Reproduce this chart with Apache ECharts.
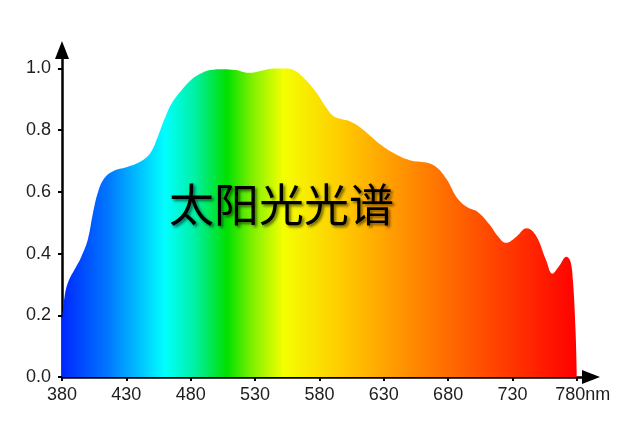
<!DOCTYPE html>
<html>
<head>
<meta charset="utf-8">
<script src="https://cdn.jsdelivr.net/npm/echarts@6/dist/echarts.min.js"></script>
<style>html,body{margin:0;padding:0;background:#fff;}#c{width:640px;height:436px;}</style>
</head>
<body>
<div id="c"></div>
<script>
const wavelengths = [380,382,385,390,395,400,404,408,413,420,430,438,445,450,455,460,465,473,480,487,495,505,515,525,535,545,555,562,570,578,585,591,597,604,612,620,628,638,650,663,671,679,687,695,703,712,719,725,733,741,748,756,761,766,772,775,777,779,780];
const intensity = [0.18,0.26,0.31,0.35,0.39,0.445,0.53,0.60,0.645,0.668,0.68,0.692,0.71,0.735,0.785,0.84,0.885,0.93,0.962,0.982,0.995,0.998,0.995,0.986,0.993,1.0,1.0,0.99,0.96,0.92,0.875,0.845,0.836,0.828,0.808,0.78,0.752,0.725,0.703,0.695,0.68,0.64,0.58,0.55,0.535,0.495,0.455,0.435,0.455,0.482,0.46,0.38,0.335,0.358,0.39,0.375,0.31,0.15,0.0];
const xTicks = [380,430,480,530,580,630,680,730,780];
const yTicks = [0,0.2,0.4,0.6,0.8,1.0];
const xUnit = 'nm';
const titleText = '太阳光光谱';

const chart = echarts.init(document.getElementById('c'), null, {renderer:'canvas'});
const fontFam = 'Liberation Sans, Arial, sans-serif';
const labelStyle = {color:'#1e1e1e', fontSize:18, fontFamily:fontFam};
chart.setOption({
  animation:false,
  title:{text:titleText, left:164, top:177,
    textStyle:{fontSize:45, fontWeight:'normal', color:'#000', fontFamily:'Noto Sans CJK SC',
      textShadowColor:'rgba(0,0,0,0.55)', textShadowBlur:3, textShadowOffsetX:2, textShadowOffsetY:2}},
  grid:{left:62, right:49, top:50, bottom:59, containLabel:false},
  xAxis:{type:'value', min:380, max:791,
    axisLine:{show:true, onZero:false, lineStyle:{color:'#000', width:2.5}, symbol:['none','triangle'], symbolSize:[14,18]},
    axisTick:{show:true, length:4, lineStyle:{color:'#000', width:2}, customValues:xTicks},
    axisLabel:Object.assign({}, labelStyle, {margin:9, customValues:xTicks,
      formatter:v=> v===780 ? '{e|' + v + xUnit + '}' : String(v),
      rich:{e:{color:'#1e1e1e', fontSize:18, fontFamily:fontFam, padding:[0,0,0,12]}}}),
    splitLine:{show:false}},
  yAxis:{type:'value', min:0, max:1.06,
    axisLine:{show:true, lineStyle:{color:'#000', width:2.5}, symbol:['none','triangle'], symbolSize:[14,18]},
    axisTick:{show:true, length:4, lineStyle:{color:'#000', width:2}, customValues:yTicks},
    axisLabel:Object.assign({}, labelStyle, {margin:11, customValues:yTicks, formatter:v=>v.toFixed(1)}),
    splitLine:{show:false}},
  series:[{type:'line', data:wavelengths.map((w,i)=>[w,intensity[i]]), smooth:0.4, symbol:'none',
    lineStyle:{width:0},
    areaStyle:{opacity:1, color:new echarts.graphic.LinearGradient(0,0,1,0,[
      {offset:0, color:'#0028ff'},
      {offset:0.09, color:'#0078ff'},
      {offset:0.2, color:'#00ffff'},
      {offset:0.26, color:'#00f0a0'},
      {offset:0.32, color:'#00e000'},
      {offset:0.37, color:'#80f000'},
      {offset:0.43, color:'#f4ff00'},
      {offset:0.55, color:'#ffc800'},
      {offset:0.66, color:'#ff9400'},
      {offset:0.8, color:'#ff5500'},
      {offset:1, color:'#ff0000'}])}}]
});
</script>
</body>
</html>
